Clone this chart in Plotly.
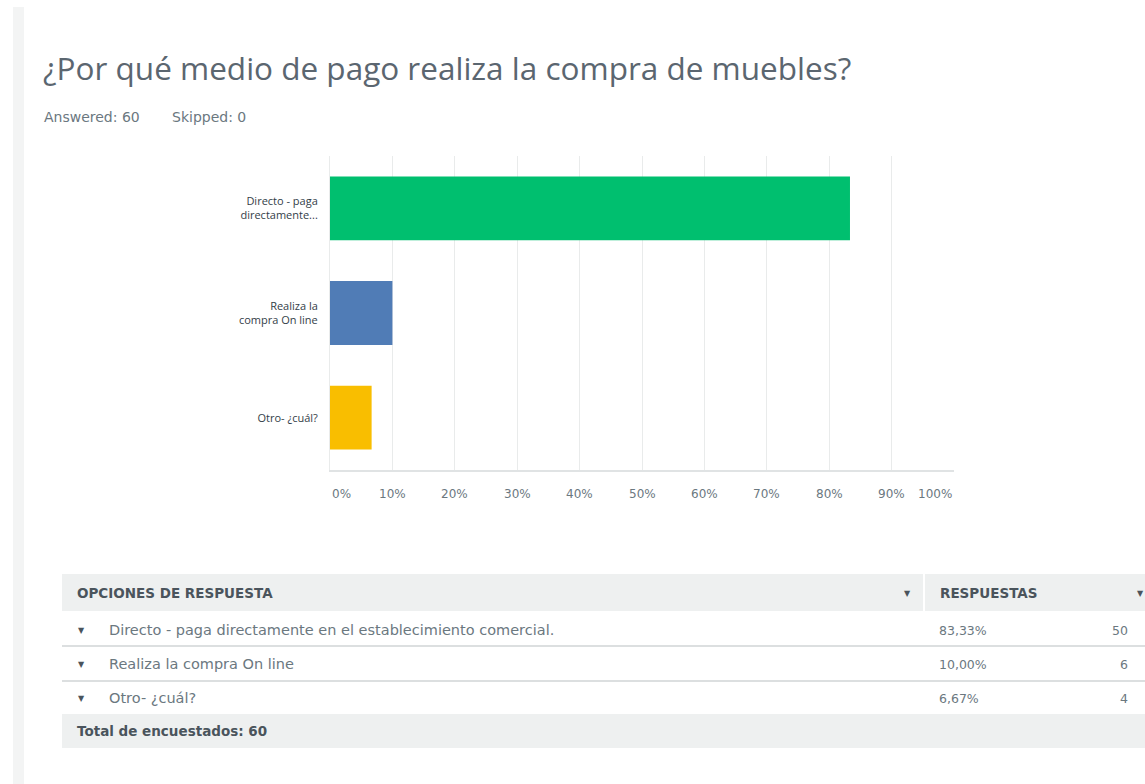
import plotly.graph_objects as go

W, H = 1145, 784

title = "¿Por qué medio de pago realiza la compra de muebles?"
answered = "Answered: 60"
skipped = "Skipped: 0"

categories = ["Directo - paga<br>directamente...", "Realiza la<br>compra On line", "Otro- ¿cuál?"]
values = [83.33, 10.00, 6.67]
colors = ["#00bf6f", "#507cb6", "#f9be00"]

tick_vals = [0, 10, 20, 30, 40, 50, 60, 70, 80, 90, 100]
tick_text = ["0%", "10%", "20%", "30%", "40%", "50%", "60%", "70%", "80%", "90%", "100%"]

table_options = [
    "Directo - paga directamente en el establecimiento comercial.",
    "Realiza la compra On line",
    "Otro- ¿cuál?",
]
table_pct = ["83,33%", "10,00%", "6,67%"]
table_counts = [50, 6, 4]
total_text = "Total de encuestados: 60"

FONT = "Open Sans, sans-serif"
WIDE = "DejaVu Sans, sans-serif"
TEXT = "#333e48"
MUTED = "#6b787f"
HEAD = "#4a545c"


def px(x):
    return x / W


def py(y):
    return 1 - y / H


def label(text, x, y, anchor="left", size=12, color=MUTED, family=WIDE):
    return dict(text=text, xref="paper", yref="paper", x=px(x), y=py(y),
                xanchor=anchor, yanchor="middle", showarrow=False,
                font=dict(family=family, size=size, color=color))


fig = go.Figure()
fig.add_trace(go.Bar(
    x=values,
    y=categories,
    orientation="h",
    marker=dict(color=colors, line=dict(width=0)),
    width=0.61,
    hoverinfo="x+y",
    showlegend=False,
))

shapes = []
annotations = []

# thin grey strip on the left edge
shapes.append(dict(type="rect", xref="paper", yref="paper",
                   x0=px(13), x1=px(24), y0=py(784), y1=py(7),
                   fillcolor="#f3f4f4", line_width=0, layer="below"))

annotations.append(label(title, 41, 67, size=31.5, color="#5b6670", family=FONT))
annotations.append(label(answered, 42, 117, size=14))
annotations.append(label(skipped, 170, 117, size=14))

# x tick labels: first and last pulled inside the axis like the original
for i, (tv, tt) in enumerate(zip(tick_vals, tick_text)):
    anchor = "left" if i == 0 else ("right" if i == len(tick_vals) - 1 else "center")
    annotations.append(dict(text=tt, xref="x", yref="paper", x=tv, y=py(494),
                            xanchor=anchor, yanchor="middle", showarrow=False,
                            font=dict(family=WIDE, size=12, color=MUTED)))

# table
TL, TR, COL = 62, 1145, 924
shapes.append(dict(type="rect", xref="paper", yref="paper",
                   x0=px(TL), x1=px(TR), y0=py(611), y1=py(574),
                   fillcolor="#eef0f0", line_width=0))
shapes.append(dict(type="line", xref="paper", yref="paper",
                   x0=px(COL), x1=px(COL), y0=py(611), y1=py(574),
                   line=dict(color="white", width=2)))
shapes.append(dict(type="rect", xref="paper", yref="paper",
                   x0=px(TL), x1=px(TR), y0=py(748), y1=py(714),
                   fillcolor="#eef0f0", line_width=0))
for yl in [646, 681]:
    shapes.append(dict(type="line", xref="paper", yref="paper",
                       x0=px(TL), x1=px(TR), y0=py(yl), y1=py(yl),
                       line=dict(color="#dcdfe0", width=2)))

annotations.append(label("<b>OPCIONES DE RESPUESTA</b>", 75, 593, size=13.5, color=HEAD))
annotations.append(label("<b>RESPUESTAS</b>", 938, 593, size=13.5, color=HEAD))
for xa in [907, 1140]:
    annotations.append(label("▼", xa, 593, anchor="center", size=8, color=HEAD))

row_y = [630, 664, 698]
for yy, opt, pct, cnt in zip(row_y, table_options, table_pct, table_counts):
    annotations.append(label("▼", 81, yy, anchor="center", size=8, color=HEAD))
    annotations.append(label(opt, 107, yy, size=14.5))
    annotations.append(label(pct, 937, yy, size=12.5))
    annotations.append(label(str(cnt), 1130, yy, anchor="right", size=12.5))

annotations.append(label("<b>" + total_text + "</b>", 75, 731, size=13.5, color=HEAD))

fig.update_layout(
    width=W, height=H,
    margin=dict(l=0, r=0, t=0, b=0, autoexpand=False),
    plot_bgcolor="white",
    paper_bgcolor="white",
    font=dict(family=FONT, size=12, color=MUTED),
    xaxis=dict(
        domain=[px(330), px(954)],
        range=[0, 100],
        tickvals=tick_vals,
        showticklabels=False,
        showgrid=True, gridcolor="#e9ebeb", gridwidth=1,
        zeroline=False,
        showline=True, linecolor="#e0e3e4", linewidth=2, mirror=False,
        ticks="",
        fixedrange=True,
    ),
    yaxis=dict(
        domain=[py(470), py(156)],
        autorange="reversed",
        showgrid=False, zeroline=False,
        showline=True, linecolor="#e9ebeb", linewidth=1,
        ticks="", ticklabelstandoff=9,
        tickfont=dict(family=FONT, size=11, color=TEXT),
        fixedrange=True,
    ),
    shapes=shapes,
    annotations=annotations,
    bargap=0.39,
)

fig.write_html(
    "out.html",
    config={"displayModeBar": False},
    post_script="document.body.style.margin='0';document.body.style.overflow='hidden';",
)
